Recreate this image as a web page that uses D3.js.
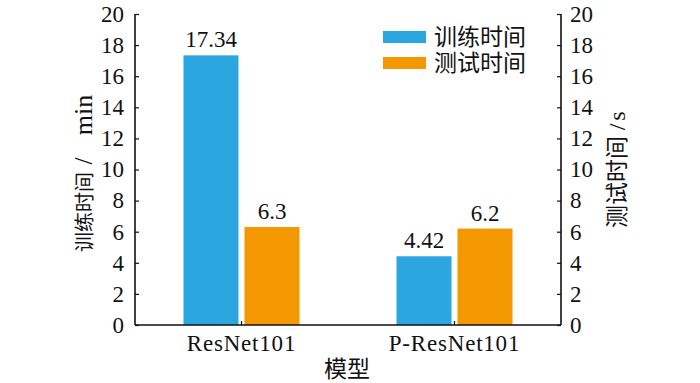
<!DOCTYPE html>
<html>
<head>
<meta charset="utf-8">
<script src="https://cdn.jsdelivr.net/npm/d3@7"></script>
<style>
  body { margin: 0; background: #fff; }
  svg text { font-family: "Liberation Serif", "Times New Roman", serif; fill: #111; }
  svg text.cjk { font-family: "Noto Sans CJK SC", sans-serif; }
</style>
</head>
<body>
<div id="chart"></div>
<script>
const models = ["ResNet101", "P-ResNet101"];
const trainTime = [17.34, 4.42];
const testTime = [6.3, 6.2];
const trainLabels = ["17.34", "4.42"];
const testLabels = ["6.3", "6.2"];
const seriesNames = ["训练时间", "测试时间"];
const seriesColors = ["#2ba6de", "#f39800"];
const yTicks = [0, 2, 4, 6, 8, 10, 12, 14, 16, 18, 20];

const width = 700, height = 383;
const margin = { top: 14, right: 139, bottom: 58, left: 135 };

const svg = d3.select("#chart").append("svg")
    .attr("width", width)
    .attr("height", height);

const x = d3.scaleBand()
    .domain(models)
    .range([margin.left, width - margin.right]);

const barW = 55, gap = 6;

// left = training time (min), right = test time (s)
const yLeft = d3.scaleLinear().domain([0, 20]).range([height - margin.bottom, margin.top]);
const yRight = d3.scaleLinear().domain([0, 20]).range([height - margin.bottom, margin.top]);

models.forEach((m, i) => {
    const cx = x(m) + x.bandwidth() / 2;
    const bars = [
        { v: trainTime[i], y: yLeft, x0: cx - gap / 2 - barW, color: seriesColors[0], label: trainLabels[i] },
        { v: testTime[i], y: yRight, x0: cx + gap / 2, color: seriesColors[1], label: testLabels[i] }
    ];
    bars.forEach(d => {
        svg.append("rect")
            .attr("x", d.x0)
            .attr("y", d.y(d.v))
            .attr("width", barW)
            .attr("height", d.y(0) - d.y(d.v))
            .attr("fill", d.color);
        svg.append("text")
            .attr("x", d.x0 + barW / 2)
            .attr("y", d.y(d.v) - 8)
            .attr("text-anchor", "middle")
            .style("font-size", "23px")
            .text(d.label);
    });
});

const leftAxis = svg.append("g")
    .attr("transform", `translate(${margin.left},0)`)
    .call(d3.axisLeft(yLeft).tickValues(yTicks).tickSize(-4).tickPadding(11));

const rightAxis = svg.append("g")
    .attr("transform", `translate(${width - margin.right},0)`)
    .call(d3.axisRight(yRight).tickValues(yTicks).tickSize(-4).tickPadding(9));

const bottomAxis = svg.append("g")
    .attr("transform", `translate(0,${height - margin.bottom})`)
    .call(d3.axisBottom(x).tickSize(-4).tickPadding(9));

[leftAxis, rightAxis, bottomAxis].forEach(g => {
    g.attr("font-family", null).attr("font-size", null);
    g.selectAll(".domain").attr("stroke", "#111").attr("stroke-width", 1.6);
    g.selectAll(".tick line").attr("stroke", "#111").attr("stroke-width", 1.2);
    g.selectAll(".tick text")
        .attr("fill", "#111")
        .style("font-size", "23px");
});
leftAxis.select(".domain").attr("d", `M0,${yLeft(20)}V${yLeft(0)}`);
rightAxis.select(".domain").attr("d", `M0,${yRight(20)}V${yRight(0)}`);
bottomAxis.select(".domain").attr("d", `M${margin.left},0H${width - margin.right}`);
bottomAxis.selectAll(".tick text")
    .attr("dy", "0.72em")
    .style("letter-spacing", "0.8px");

// left title, reads bottom to top
svg.append("text")
    .attr("class", "cjk")
    .attr("transform", "translate(92,252) rotate(-90)")
    .style("font-size", "20px")
    .text("训练时间");
svg.append("text")
    .attr("transform", "translate(92,161) rotate(-90)")
    .attr("text-anchor", "middle")
    .style("font-size", "25px")
    .text("/");
svg.append("text")
    .attr("transform", "translate(92,115) rotate(-90)")
    .attr("text-anchor", "middle")
    .style("font-size", "26px")
    .text("min");

// right title, also bottom to top
svg.append("text")
    .attr("class", "cjk")
    .attr("transform", "translate(625,228) rotate(-90)")
    .style("font-size", "23px")
    .text("测试时间");
svg.append("text")
    .attr("transform", "translate(625,127) rotate(-90)")
    .attr("text-anchor", "middle")
    .style("font-size", "24px")
    .text("/");
svg.append("text")
    .attr("transform", "translate(625,116) rotate(-90)")
    .attr("text-anchor", "middle")
    .style("font-size", "24px")
    .text("s");

svg.append("text")
    .attr("class", "cjk")
    .attr("x", 347)
    .attr("y", 377)
    .attr("text-anchor", "middle")
    .style("font-size", "23px")
    .text("模型");

const legend = svg.selectAll(".legend")
    .data(seriesNames)
    .enter().append("g")
    .attr("class", "legend")
    .attr("transform", (d, i) => `translate(383,${31 + i * 26})`);

legend.append("rect")
    .attr("width", 43)
    .attr("height", 12)
    .attr("fill", (d, i) => seriesColors[i]);

legend.append("text")
    .attr("class", "cjk")
    .attr("x", 51)
    .attr("y", 6)
    .attr("dy", "0.36em")
    .style("font-size", "23px")
    .text(d => d);
</script>
</body>
</html>
